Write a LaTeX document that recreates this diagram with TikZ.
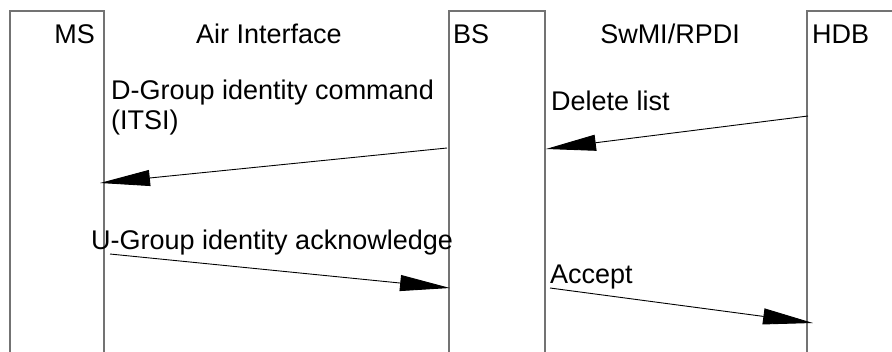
\documentclass[tikz,border=0pt]{standalone}
\usepackage{fontspec}
\setmainfont{Liberation Sans}
\usetikzlibrary{arrows.meta}
\begin{document}
\begin{tikzpicture}[x=1pt,y=-1pt,
  lifeline/.style={draw=black!55,line width=1.3pt},
  msg/.style={draw=black,line width=0.9pt,-{Triangle[length=50pt,width=16pt]}},
  lbl/.style={inner sep=0pt,font=\fontsize{27}{31}\selectfont}]
\useasboundingbox (0,0) rectangle (892,351);
\fill[white] (0,0) rectangle (892,351);
% lifeline boxes (open at the bottom)
\coordinate (msTL) at (10,11);  \coordinate (msTR) at (104,11);
\coordinate (bsTL) at (449,11); \coordinate (bsTR) at (545,11);
\coordinate (hdbTL) at (807,11); \coordinate (hdbTR) at (893,11);
\draw[lifeline] (10,352) -- (msTL) -- (msTR) -- (104,352);
\draw[lifeline] (449,352) -- (bsTL) -- (bsTR) -- (545,352);
\draw[lifeline] (807,352) -- (hdbTL) -- (hdbTR);
% headings
\node[lbl,anchor=base east] (ms) at (95,43) {MS};
\node[lbl,anchor=base] (air) at (269,43) {Air Interface};
\node[lbl,anchor=base west] (bs) at (453,43) {BS};
\node[lbl,anchor=base] (swmi) at (670,43) {SwMI/RPDI};
\node[lbl,anchor=base west] (hdb) at (812,43) {HDB};
% message labels
\node[lbl,anchor=base west] (m1a) at (111,99) {D-Group identity command};
\node[lbl,anchor=base west] (m1b) at (111,129) {(ITSI)};
\node[lbl,anchor=base west] (m2) at (551,110) {Delete list};
\node[lbl,anchor=base west] (m3) at (91,249) {U-Group identity acknowledge};
\node[lbl,anchor=base west] (m4) at (550,283) {Accept};
% message end points
\coordinate (hdb1) at (808,116); \coordinate (bs1) at (546,149);
\coordinate (bs2) at (447,148);  \coordinate (ms2) at (100,183);
\coordinate (ms3) at (110,254);  \coordinate (bs3) at (450,288);
\coordinate (bs4) at (550,288);  \coordinate (hdb4) at (813,323);
\draw[msg] (hdb1) -- (bs1);
\draw[msg] (bs2) -- (ms2);
\draw[msg] (ms3) -- (bs3);
\draw[msg] (bs4) -- (hdb4);
\end{tikzpicture}
\end{document}
